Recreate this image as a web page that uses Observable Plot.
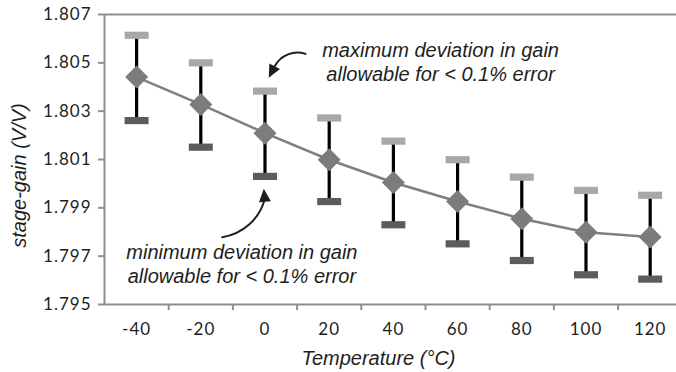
<!DOCTYPE html>
<html>
<head>
<meta charset="utf-8">
<script src="https://cdn.jsdelivr.net/npm/d3@7"></script>
<script src="https://cdn.jsdelivr.net/npm/@observablehq/plot@0.6"></script>
<style>
html, body { margin: 0; padding: 0; background: #fff; }
#chart svg [aria-label="y-axis tick label"] text,
#chart svg [aria-label="x-axis tick label"] text { letter-spacing: 1px; }
</style>
</head>
<body>
<div id="chart"></div>
<script>
// ---- data ----
const temperatures = [-40, -20, 0, 20, 40, 60, 80, 100, 120];
const stageGain    = [1.80441, 1.80328, 1.80209, 1.80099, 1.80005, 1.79926, 1.79855, 1.79799, 1.79779];
const gainMax      = [1.80614, 1.80500, 1.80383, 1.80272, 1.80176, 1.80099, 1.80027, 1.79972, 1.79952];
const gainMin      = [1.80261, 1.80151, 1.80030, 1.79926, 1.79830, 1.79751, 1.79682, 1.79623, 1.79605];
const yTicks       = [1.795, 1.797, 1.799, 1.801, 1.803, 1.805, 1.807];
const xTickLabels  = [-40, -20, 0, 20, 40, 60, 80, 100, 120];
const xBandEdges   = [-30, -10, 10, 30, 50, 70, 90, 110];
const xTitle = "Temperature (°C)";
const yTitle = "stage-gain (V/V)";
const noteMax = "maximum deviation in gain\nallowable for < 0.1% error";
const noteMin = "minimum deviation in gain\nallowable for < 0.1% error";
// annotation anchors (data units)
const noteMaxAt = {x: 54.7, y: 1.80506};
const noteMinAt = {x: -7.2, y: 1.79670};
const arrowMax = {x1: 12.62, y1: 1.80537, x2: 3.1, y2: 1.80487, tx: 1.18, ty: 1.80438, angle: 207};
const arrowMin = {x1: -13.33, y1: 1.797785, x2: -0.16, y2: 1.799324, tx: -0.37, ty: 1.799788, angle: 355};

const data = temperatures.map((t, i) => ({t, gain: stageGain[i], hi: gainMax[i], lo: gainMin[i]}));

// ---- symbols ----
const capSymbol = {draw(ctx, size) { const r = Math.sqrt(size / Math.PI); ctx.rect(-r, -r * 0.3, 2 * r, r * 0.6); }};
const diamondSymbol = {draw(ctx, size) { const r = Math.sqrt(size / Math.PI); ctx.moveTo(0, -r); ctx.lineTo(r, 0); ctx.lineTo(0, r); ctx.lineTo(-r, 0); ctx.closePath(); }};
const headSymbol = {draw(ctx, size) { const r = Math.sqrt(size / Math.PI); ctx.moveTo(0, 0); ctx.lineTo(r * 0.46, r); ctx.lineTo(-r * 0.46, r); ctx.closePath(); }};

const axisGray = "#8f8f8f";
const ink = "#1e1e1e";
const tickFont = {fontFamily: "Lato", fontSize: 17};
const noteFont = {fontFamily: "Liberation Sans", fontStyle: "italic", fontSize: 20};

const chart = Plot.plot({
  width: 676,
  height: 372,
  marginLeft: 104,
  marginRight: 0,
  marginTop: 14,
  marginBottom: 68,
  style: {background: "#fff", color: ink},
  x: {type: "linear", domain: [-50, 128.2]},
  y: {domain: [1.795, 1.807]},
  marks: [
    // frame
    Plot.ruleY([1.795, 1.807], {stroke: axisGray, strokeWidth: 2}),
    Plot.ruleX([-50], {stroke: axisGray, strokeWidth: 2}),
    // axes
    Plot.axisY(yTicks, {tickSize: 6, tickPadding: 7, tickFormat: d3.format(".3f"), stroke: axisGray, strokeWidth: 2, fill: ink, label: null, ...tickFont}),
    Plot.axisX(xTickLabels, {tickSize: 0, tickPadding: 18, tickFormat: d => String(d), fill: ink, label: null, ...tickFont}),
    Plot.axisX(xBandEdges, {tickSize: 6, tickFormat: () => "", stroke: axisGray, strokeWidth: 2, label: null}),
    // axis titles
    Plot.text([xTitle], {frameAnchor: "bottom", dx: -12, dy: 54, lineAnchor: "middle", fill: ink, ...noteFont}),
    Plot.text([yTitle], {frameAnchor: "left", textAnchor: "middle", rotate: -90, dx: -85, dy: 16, lineAnchor: "middle", fill: ink, ...noteFont, letterSpacing: 1.9}),
    // series
    Plot.line(data, {x: "t", y: "gain", stroke: "#7f7f7f", strokeWidth: 2.5}),
    Plot.ruleX(data, {x: "t", y1: "lo", y2: "hi", stroke: "#000", strokeWidth: 3.2}),
    Plot.dot(data, {x: "t", y: "hi", symbol: capSymbol, r: 12, fill: "#a8a8a8"}),
    Plot.dot(data, {x: "t", y: "lo", symbol: capSymbol, r: 12, fill: "#5c5c5c"}),
    Plot.dot(data, {x: "t", y: "gain", symbol: diamondSymbol, r: 11.5, fill: "#7c7c7c"}),
    // annotations
    Plot.text([noteMax], {x: noteMaxAt.x, y: noteMaxAt.y, lineHeight: 1.2, lineAnchor: "middle", fill: ink, ...noteFont}),
    Plot.text([noteMin], {x: noteMinAt.x, y: noteMinAt.y, lineHeight: 1.2, lineAnchor: "middle", fill: ink, ...noteFont}),
    Plot.arrow([arrowMax], {x1: "x1", y1: "y1", x2: "x2", y2: "y2", bend: -40, headLength: 0, stroke: ink, strokeWidth: 2}),
    Plot.arrow([arrowMin], {x1: "x1", y1: "y1", x2: "x2", y2: "y2", bend: -33, headLength: 0, stroke: ink, strokeWidth: 2}),
    Plot.dot([arrowMax, arrowMin], {x: "tx", y: "ty", rotate: "angle", symbol: headSymbol, r: 13, fill: ink})
  ]
});
document.getElementById("chart").appendChild(chart);
</script>
</body>
</html>
